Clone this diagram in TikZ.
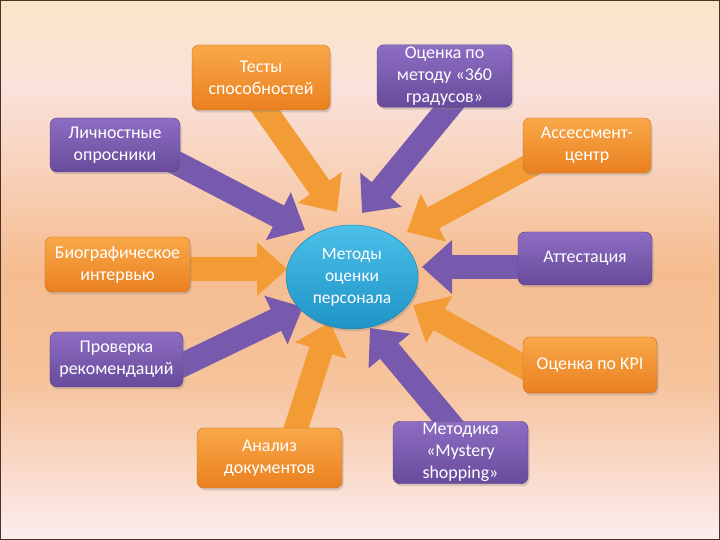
\documentclass[tikz,border=0pt]{standalone}
\usepackage{fontspec}
\setmainfont{Carlito}
\usetikzlibrary{
    arrows.meta,
    shapes.geometric,
    shadows,
    calc
}
\definecolor{bgA}{HTML}{FBEEF0}
\definecolor{bgB}{HTML}{FADCCF}
\definecolor{bgC}{HTML}{F6C39B}
\definecolor{bgD}{HTML}{F5BC90}
\definecolor{bgE}{HTML}{F8D2BA}
\definecolor{bgF}{HTML}{FAE1DA}
\definecolor{bgG}{HTML}{F9E6C7}
\definecolor{frame}{HTML}{4A3226}
\definecolor{orangeT}{HTML}{F9A849}
\definecolor{orangeB}{HTML}{EA8020}
\definecolor{violetT}{HTML}{8D6DC2}
\definecolor{violetB}{HTML}{684B9C}
\definecolor{orangeA}{HTML}{F39C36}
\definecolor{violetA}{HTML}{7759AD}
\definecolor{skyT}{HTML}{4CC0EA}
\definecolor{skyB}{HTML}{1E94C6}
\pgfdeclareverticalshading{bgshade}{100bp}{color(0bp)=(bgA); color(25bp)=(bgA);
    color(30.56bp)=(bgB); color(39.81bp)=(bgC); color(50bp)=(bgD);
    color(59.26bp)=(bgE); color(66.67bp)=(bgF); color(75bp)=(bgG); color(100bp)=(bgG)}
\pgfdeclarelayer{bg}
\pgfdeclarelayer{arr}
\pgfsetlayers{bg,arr,main}
\tikzset{
    box/.style={rounded corners=7bp, inner sep=2bp, align=center, text=white,
        font=\fontsize{18}{22}\selectfont,
        drop shadow={shadow xshift=1.5bp, shadow yshift=-2.5bp, opacity=.3}},
    sz/.style 2 args={minimum width=#1bp, minimum height=#2bp},
    obox/.style={box, top color=orangeT, bottom color=orangeB, draw=orangeB!85!black},
    vbox/.style={box, top color=violetT, bottom color=violetB, draw=violetB!85!black},
    oarr/.style={draw=orangeA, line width=24bp, -{Triangle[width=52bp, length=30bp]}},
    varr/.style={draw=violetA, line width=24bp, -{Triangle[width=52bp, length=30bp]}}
}

\begin{document}
\begin{tikzpicture}[x=1bp, y=1bp]
    \useasboundingbox (0, 0) rectangle (720, 540);
    \begin{pgfonlayer}{bg}
        \shade[shading=bgshade] (0, 0) rectangle (720, 540);
        \draw[frame, line width=1.2bp] (0.8, 0.8) rectangle (719.2, 539.2);
    \end{pgfonlayer}

    \node[ellipse, minimum width=132bp, minimum height=104bp, inner sep=0,
        top color=skyT, bottom color=skyB, draw=skyB!85!black, text=white,
        font=\fontsize{17.5}{22}\selectfont, align=center,
        drop shadow={shadow xshift=1.5bp, shadow yshift=-2.5bp, opacity=.3}]
        (centre) at (352, 263) {Методы\\оценки\\персонала};

    \node[obox, sz={138}{65}] (tests) at (261, 462.5) {Тесты\\способностей};
    \node[vbox, sz={135}{62}] (deg) at (444.5, 464) {Оценка по\\методу «360\\градусов»};
    \node[vbox, sz={130}{54}] (pers) at (115, 395) {Личностные\\опросники};
    \node[obox, sz={128}{55}] (assess) at (587, 394.5) {Ассессмент-\\центр};
    \node[obox, sz={145}{55}] (bio) at (117.5, 275.5) {Биографическое\\интервью};
    \node[vbox, sz={134}{53}] (att) at (585, 281.5) {Аттестация};
    \node[vbox, sz={133}{55}] (rec) at (116.5, 180.5) {Проверка\\рекомендаций};
    \node[obox, sz={134}{56}] (kpi) at (590, 175) {Оценка по KPI};
    \node[obox, sz={145}{60}] (docs) at (269.5, 82) {Анализ\\документов};
    \node[vbox, sz={135}{61}] (myst) at (460.5, 87.5) {Методика\\«Mystery\\shopping»};

    % arrow tips at the rim of the ellipse
    \coordinate (tTests) at (337, 328);
    \coordinate (tDeg) at (362, 327);
    \coordinate (tPers) at (305, 310);
    \coordinate (tAssess) at (407, 308);
    \coordinate (tBio) at (287, 271);
    \coordinate (tAtt) at (422, 273);
    \coordinate (tRec) at (303, 233);
    \coordinate (tKpi) at (413, 235);
    \coordinate (tDocs) at (330, 218);
    \coordinate (tMyst) at (370, 212);

    \begin{pgfonlayer}{arr}
        \draw
        ($(tests)+(-19, 0)$) edge[oarr] (tTests)
        ($(deg)+(30, 0)$) edge[varr] (tDeg)
        ($(pers)+(0, 14)$) edge[varr] (tPers)
        ($(assess)+(0, 10.5)$) edge[oarr] (tAssess)
        ($(bio)+(0, -4.5)$) edge[oarr] (tBio)
        ($(att)+(0, -8.5)$) edge[varr] (tAtt)
        ($(rec)+(51.5, -12.5)$) edge[varr] (tRec)
        ($(kpi)+(-55, -8)$) edge[oarr] (tKpi)
        ($(docs)+(19.5, 8)$) edge[oarr] (tDocs)
        ($(myst)+(13.5, 0)$) edge[varr] (tMyst);
    \end{pgfonlayer}
\end{tikzpicture}
\end{document}
